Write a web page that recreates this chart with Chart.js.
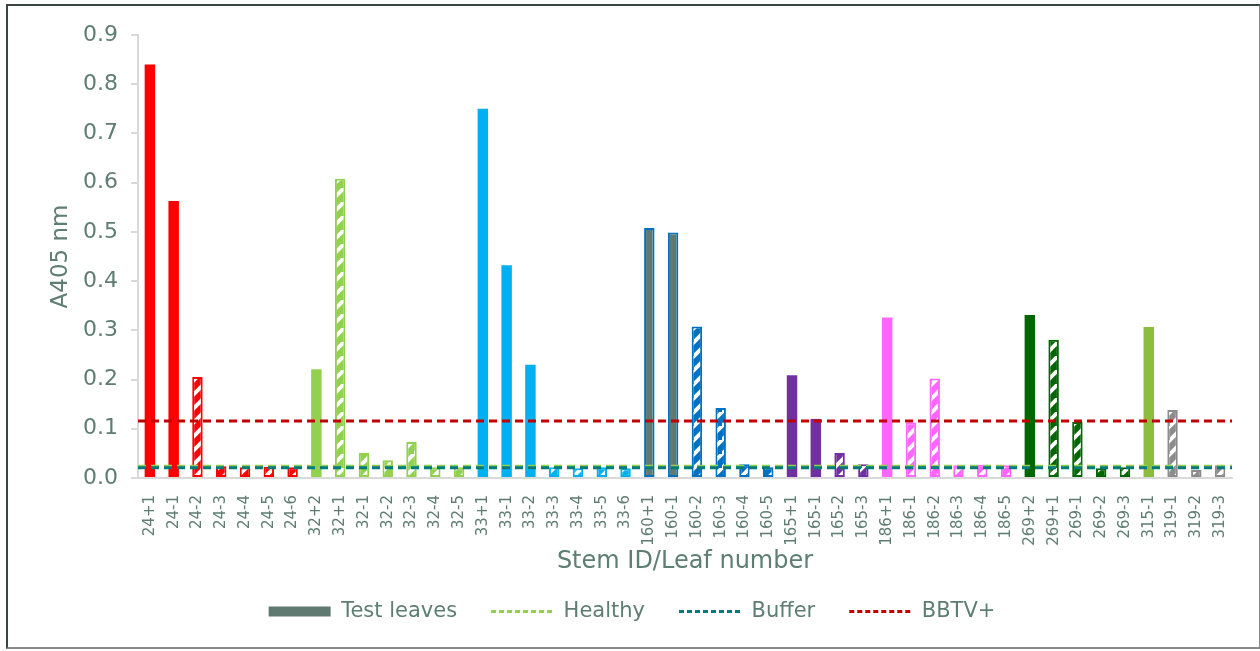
<!DOCTYPE html>
<html>
<head>
<meta charset="utf-8">
<script src="https://cdn.jsdelivr.net/npm/chart.js"></script>
<style>
  html, body { margin: 0; padding: 0; background: #fff; }
  #frame {
    position: absolute; left: 6px; top: 4px;
    width: 1251px; height: 641px;
    border: 2px solid #3a4440; border-right-color: #8a8a8a; border-bottom-color: #8a8a8a;
  }
  #c { display: block; }
</style>
</head>
<body>
<div id="frame"><canvas id="c" width="1251" height="641"></canvas></div>
<script>
// Stem / leaf samples along the x axis
const stems = ['24+1','24-1','24-2','24-3','24-4','24-5','24-6',
  '32+2','32+1','32-1','32-2','32-3','32-4','32-5',
  '33+1','33-1','33-2','33-3','33-4','33-5','33-6',
  '160+1','160-1','160-2','160-3','160-4','160-5',
  '165+1','165-1','165-2','165-3',
  '186+1','186-1','186-2','186-3','186-4','186-5',
  '269+2','269+1','269-1','269-2','269-3',
  '315-1',
  '319-1','319-2','319-3'];

// A405 readings per sample
const a405 = [0.840, 0.563, 0.205, 0.024, 0.022, 0.023, 0.022,
  0.221, 0.608, 0.051, 0.036, 0.073, 0.022, 0.022,
  0.750, 0.432, 0.230, 0.022, 0.020, 0.022, 0.020,
  0.508, 0.499, 0.308, 0.142, 0.028, 0.022,
  0.209, 0.120, 0.051, 0.028,
  0.326, 0.113, 0.202, 0.026, 0.027, 0.026,
  0.331, 0.281, 0.114, 0.020, 0.022,
  0.307,
  0.138, 0.016, 0.026];

// control wells (horizontal reference lines)
const healthyLevel = 0.024;
const bufferLevel = 0.021;
const bbtvLevel = 0.116;

const yTicks = [0, 0.1, 0.2, 0.3, 0.4, 0.5, 0.6, 0.7, 0.8, 0.9];

// colour per stem group and how each bar is filled
const groupColor = { '24': '#ff0000', '32': '#92d050', '33': '#00b0f0', '160': '#0070c0',
  '165': '#7030a0', '186': '#ff66ff', '269': '#006600', '315': '#8cbd3c', '319': '#8c8c8c' };
const fillKind = ['s','s','h','h','h','h','h',
  's','h','h','h','h','h','h',
  's','s','s','h','h','h','h',
  'g','g','h','h','h','h',
  's','s','h','h',
  's','h','h','h','h','h',
  's','h','h','h','h',
  's',
  'h','h','h'];

const textColor = '#5e7d73';
const axisColor = '#d9d9d9';
const testGrey = '#607a72';
const FONT = "'DejaVu Sans', Verdana, sans-serif";

const canvas = document.getElementById('c');
const ctx = canvas.getContext('2d');

// upward diagonal hatch, white slashes on the group colour
function hatch(color) {
  const n = 14;
  const t = document.createElement('canvas');
  t.width = n; t.height = n;
  const g = t.getContext('2d');
  g.fillStyle = color;
  g.fillRect(0, 0, n, n);
  g.strokeStyle = '#ffffff';
  g.lineWidth = 4;
  g.beginPath();
  g.moveTo(-3, n + 3); g.lineTo(n + 3, -3);
  g.moveTo(-n - 3, n + 3); g.lineTo(3, -3);
  g.moveTo(-3 + n, 2 * n + 3); g.lineTo(2 * n + 3, n - 3);
  g.stroke();
  return ctx.createPattern(t, 'repeat');
}

const patterns = {};
const bg = [], bd = [], bw = [];
stems.forEach((s, i) => {
  const col = groupColor[s.split(/[+-]/)[0]];
  if (fillKind[i] === 'h') {
    if (!patterns[col]) patterns[col] = hatch(col);
    bg.push(patterns[col]); bd.push(col); bw.push(2);
  } else if (fillKind[i] === 'g') {
    bg.push(testGrey); bd.push(col); bw.push(2);
  } else {
    bg.push(col); bd.push(col); bw.push(0);
  }
});

function refLine(label, level, color, order) {
  return {
    type: 'line', label: label, xAxisID: 'xLine', order: order,
    data: [{ x: 0, y: level }, { x: 1, y: level }],
    borderColor: color, borderWidth: 3, borderDash: [8, 5],
    pointRadius: 0, fill: false
  };
}

const gap = '   ';

new Chart(ctx, {
  data: {
    labels: stems,
    datasets: [
      {
        type: 'bar', label: 'Test leaves', data: a405, order: 10, grouped: false,
        backgroundColor: bg, borderColor: bd, borderWidth: bw, borderSkipped: false,
        categoryPercentage: 1, barPercentage: 0.44
      },
      refLine('Healthy', healthyLevel, '#92d050', 3),
      refLine('Buffer', bufferLevel, '#007a7a', 2),
      refLine('BBTV+', bbtvLevel, '#c00000', 1)
    ]
  },
  options: {
    responsive: false,
    animation: false,
    layout: { padding: { left: 24, right: 27, top: 29, bottom: 15 } },
    plugins: {
      tooltip: { enabled: false },
      legend: {
        position: 'bottom',
        labels: {
          usePointStyle: true, pointStyleWidth: 62, boxHeight: 10,
          padding: 14, color: textColor,
          font: { family: FONT, size: 21 },
          generateLabels: () => [
            { text: 'Test leaves' + gap, fillStyle: testGrey, strokeStyle: testGrey, lineWidth: 0, pointStyle: 'rect', fontColor: textColor },
            { text: 'Healthy' + gap, fillStyle: '#92d050', strokeStyle: '#92d050', lineWidth: 3, lineDash: [5, 3], pointStyle: 'line', fontColor: textColor },
            { text: 'Buffer' + gap, fillStyle: '#007a7a', strokeStyle: '#007a7a', lineWidth: 3, lineDash: [5, 3], pointStyle: 'line', fontColor: textColor },
            { text: 'BBTV+', fillStyle: '#c00000', strokeStyle: '#c00000', lineWidth: 3, lineDash: [5, 3], pointStyle: 'line', fontColor: textColor }
          ]
        }
      }
    },
    scales: {
      x: {
        type: 'category',
        grid: { display: false },
        border: { display: true, color: axisColor, width: 2 },
        ticks: {
          autoSkip: false, maxRotation: 90, minRotation: 90, padding: 9,
          color: textColor, font: { family: FONT, size: 15 }
        },
        title: {
          display: true, text: 'Stem ID/Leaf number', color: textColor,
          font: { family: FONT, size: 24 }, padding: { top: 0, bottom: 11 }
        },
        afterFit: s => { s.height = 109; }
      },
      xLine: { type: 'linear', min: 0, max: 1, display: false },
      y: {
        min: 0, max: 0.9,
        afterBuildTicks: s => { s.ticks = yTicks.map(v => ({ value: v })); },
        grid: { drawOnChartArea: false, drawTicks: true, tickLength: 7, color: axisColor, lineWidth: 2 },
        border: { display: true, color: axisColor, width: 2 },
        ticks: {
          padding: 13, color: textColor, font: { family: FONT, size: 22 },
          callback: v => v.toFixed(1)
        },
        title: {
          display: true, text: 'A405 nm', color: textColor,
          font: { family: FONT, size: 23 }, padding: { top: 15, bottom: 0 }
        },
        afterFit: s => { s.width = 106; }
      }
    }
  }
});
</script>
</body>
</html>
